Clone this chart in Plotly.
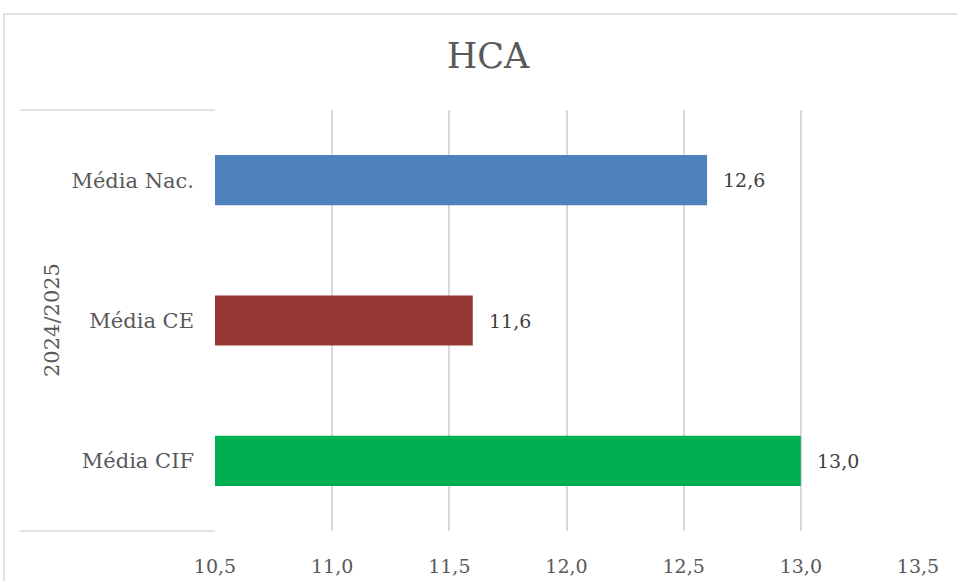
import plotly.graph_objects as go

categories = ["Média Nac.", "Média CE", "Média CIF"]
values = [12.6, 11.6, 13.0]
colors = ["#4F81BD", "#953735", "#00B050"]
group_label = "2024/2025"
title_text = "HCA"
x_ticks = [10.5, 11.0, 11.5, 12.0, 12.5, 13.0, 13.5]
x_min = 10.5

W, H = 957, 581
L, R, T, B = 215, 39, 110, 50
pw, ph = W - L - R, H - T - B

def px(xp):
    return (xp - L) / pw

def py(yp):
    return (H - B - yp) / ph

fig = go.Figure()
fig.add_trace(go.Bar(
    y=categories, x=[v - x_min for v in values], orientation="h",
    base=x_min,
    marker=dict(color=colors, line=dict(width=0)),
    width=0.357, hoverinfo="skip",
))

for c, v in zip(categories, values):
    fig.add_annotation(x=v, y=c, xref="x", yref="y", text=f"{v:.1f}".replace(".", ","),
                       showarrow=False, xanchor="left", xshift=14,
                       font=dict(family="DejaVu Serif", size=19, color="#404040"))

fig.add_annotation(x=px(38), y=py(320), xref="paper", yref="paper", text=group_label,
                   textangle=-90, showarrow=False,
                   font=dict(family="DejaVu Serif", size=21, color="#595959"))

line_col = "#D9D9D9"
# outer chart border
fig.add_shape(type="rect", xref="paper", yref="paper", x0=px(4), x1=px(990), y0=py(620), y1=py(14),
              line=dict(color=line_col, width=1.5), fillcolor="rgba(0,0,0,0)", layer="below")
# category box lines
for yy in (110, 531):
    fig.add_shape(type="line", xref="paper", yref="paper", x0=px(20), x1=px(215), y0=py(yy), y1=py(yy),
                  line=dict(color=line_col, width=1.5))

fig.update_layout(
    width=W, height=H,
    margin=dict(l=L, r=R, t=T, b=B, autoexpand=False),
    paper_bgcolor="white", plot_bgcolor="white",
    separators=",.",
    showlegend=False,
    title=dict(text=title_text, x=px(488), xref="paper", xanchor="center",
               y=1 - 56 / H, yanchor="middle",
               font=dict(family="DejaVu Serif", size=35, color="#595959")),
    xaxis=dict(range=[10.5, 13.5], tickvals=x_ticks, tickformat=".1f",
               showgrid=True, gridcolor=line_col, gridwidth=1.5, zeroline=False,
               showline=False, ticks="", ticklabelstandoff=22, automargin=False,
               tickfont=dict(family="DejaVu Serif", size=19, color="#595959")),
    yaxis=dict(categoryorder="array", categoryarray=categories[::-1],
               showgrid=False, zeroline=False, showline=False, ticks="",
               ticklabelstandoff=20, automargin=False,
               tickfont=dict(family="DejaVu Serif", size=21, color="#595959")),
)

fig.write_html("out.html", config={"displayModeBar": False},
               post_script="document.body.style.margin='0';document.body.style.overflow='hidden';")
